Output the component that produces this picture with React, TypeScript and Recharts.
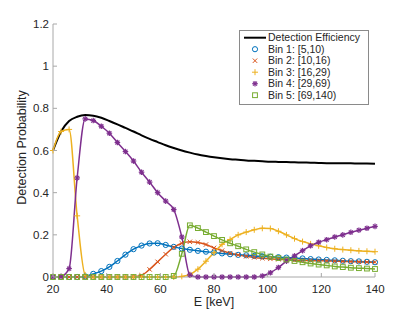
import { LineChart, Line, XAxis, YAxis, Legend } from 'recharts';

// energy grid (keV), one marker every 3 keV
const energy = [20, 23, 26, 29, 32, 35, 38, 41, 44, 47, 50, 53, 56, 59, 62, 65, 68, 71, 74, 77, 80, 83, 86, 89, 92, 95, 98, 101, 104, 107, 110, 113, 116, 119, 122, 125, 128, 131, 134, 137, 140];

const efficiency = [0.6, 0.69, 0.74, 0.76, 0.768, 0.765, 0.755, 0.74, 0.724, 0.707, 0.69, 0.672, 0.655, 0.64, 0.625, 0.612, 0.6, 0.59, 0.581, 0.574, 0.568, 0.563, 0.559, 0.556, 0.553, 0.551, 0.549, 0.547, 0.546, 0.545, 0.544, 0.543, 0.542, 0.541, 0.54, 0.54, 0.539, 0.539, 0.538, 0.538, 0.537];

const bin1 = [0, 0, 0, 0, 0.003, 0.015, 0.028, 0.048, 0.076, 0.106, 0.132, 0.149, 0.159, 0.16, 0.152, 0.143, 0.135, 0.129, 0.124, 0.12, 0.116, 0.112, 0.108, 0.105, 0.103, 0.1, 0.098, 0.096, 0.094, 0.092, 0.09, 0.088, 0.085, 0.083, 0.081, 0.079, 0.077, 0.075, 0.074, 0.072, 0.07];

const bin2 = [0, 0, 0, 0, 0, 0, 0, 0, 0, 0, 0.001, 0.008, 0.036, 0.072, 0.108, 0.14, 0.16, 0.167, 0.164, 0.154, 0.138, 0.125, 0.113, 0.105, 0.098, 0.093, 0.089, 0.086, 0.084, 0.082, 0.08, 0.079, 0.078, 0.077, 0.076, 0.075, 0.074, 0.073, 0.072, 0.071, 0.07];

const bin3 = [0.6, 0.69, 0.7, 0.29, 0.01, 0, 0, 0, 0, 0, 0, 0, 0, 0, 0, 0, 0.003, 0.012, 0.037, 0.075, 0.115, 0.155, 0.178, 0.2, 0.213, 0.224, 0.231, 0.23, 0.217, 0.2, 0.182, 0.168, 0.157, 0.148, 0.14, 0.134, 0.13, 0.127, 0.124, 0.122, 0.12];

const bin4 = [0, 0.003, 0.04, 0.47, 0.75, 0.742, 0.715, 0.682, 0.638, 0.595, 0.55, 0.497, 0.45, 0.4, 0.36, 0.32, 0.19, 0.01, 0, 0, 0, 0, 0, 0, 0, 0, 0.005, 0.02, 0.045, 0.075, 0.1, 0.125, 0.148, 0.165, 0.177, 0.19, 0.2, 0.212, 0.222, 0.231, 0.24];

const bin5 = [0, 0, 0, 0, 0, 0, 0, 0, 0, 0, 0, 0, 0, 0, 0, 0.005, 0.11, 0.245, 0.232, 0.213, 0.194, 0.176, 0.16, 0.146, 0.131, 0.118, 0.107, 0.097, 0.09, 0.083, 0.076, 0.07, 0.064, 0.059, 0.055, 0.05, 0.047, 0.044, 0.042, 0.04, 0.038];

const xTicks = [20, 40, 60, 80, 100, 120, 140];
const yTicks = [0, 0.2, 0.4, 0.6, 0.8, 1, 1.2];

const data = energy.map((e, i) => ({
  e,
  eff: efficiency[i],
  b1: bin1[i],
  b2: bin2[i],
  b3: bin3[i],
  b4: bin4[i],
  b5: bin5[i],
}));

const bins = [
  { key: 'b1', name: 'Bin 1: [5,10)', color: '#0072BD', shape: 'circle' },
  { key: 'b2', name: 'Bin 2: [10,16)', color: '#D95319', shape: 'x' },
  { key: 'b3', name: 'Bin 3: [16,29)', color: '#EDB120', shape: 'plus' },
  { key: 'b4', name: 'Bin 4: [29,69)', color: '#7E2F8E', shape: 'star' },
  { key: 'b5', name: 'Bin 5: [69,140)', color: '#77AC30', shape: 'square' },
];

const FONT = '"Liberation Sans", Arial, Helvetica, sans-serif';
const TEXT = '#262626';
const AXIS = '#a8a8a8';

function Marker({ shape, color, cx, cy }: { shape: string; color: string; cx: number; cy: number }) {
  if (cx == null || cy == null) return null;
  const s = { stroke: color, strokeWidth: 1, fill: 'none' };
  if (shape === 'circle') return <circle cx={cx} cy={cy} r={2.6} {...s} />;
  if (shape === 'square') return <rect x={cx - 2.4} y={cy - 2.4} width={4.8} height={4.8} {...s} />;
  if (shape === 'x') {
    const d = 2.2;
    return (
      <g {...s}>
        <line x1={cx - d} y1={cy - d} x2={cx + d} y2={cy + d} />
        <line x1={cx - d} y1={cy + d} x2={cx + d} y2={cy - d} />
      </g>
    );
  }
  if (shape === 'plus') {
    const d = 3;
    return (
      <g {...s}>
        <line x1={cx - d} y1={cy} x2={cx + d} y2={cy} />
        <line x1={cx} y1={cy - d} x2={cx} y2={cy + d} />
      </g>
    );
  }
  // asterisk
  const d = 2.8;
  const k = 2;
  return (
    <g {...s} strokeWidth={1.2}>
      <line x1={cx - d} y1={cy} x2={cx + d} y2={cy} />
      <line x1={cx} y1={cy - d} x2={cx} y2={cy + d} />
      <line x1={cx - k} y1={cy - k} x2={cx + k} y2={cy + k} />
      <line x1={cx - k} y1={cy + k} x2={cx + k} y2={cy - k} />
    </g>
  );
}

const dotFor = (shape: string, color: string) => (props: any) => (
  <Marker key={`m-${props.index}`} shape={shape} color={color} cx={props.cx} cy={props.cy} />
);

// MATLAB-style ticks: short marks pointing into the plot
const XTick = (props: any) => {
  const { x, y, payload } = props;
  return (
    <g>
      <line x1={x} x2={x} y1={277} y2={273} stroke={AXIS} />
      <text x={x} y={y} dy="0.71em" textAnchor="middle" fill={TEXT} fontSize={11.5} fontFamily={FONT}>
        {payload.value}
      </text>
    </g>
  );
};

const YTick = (props: any) => {
  const { x, y, payload } = props;
  return (
    <g>
      <line x1={53} x2={57} y1={y} y2={y} stroke={AXIS} />
      <text x={x} y={y} dy="0.355em" textAnchor="end" fill={TEXT} fontSize={11.5} fontFamily={FONT}>
        {String(payload.value)}
      </text>
    </g>
  );
};

const LegendBox = () => {
  const rowY = [7.7, 19.2, 30.7, 42.2, 53.7, 65.2];
  return (
    <svg width={131} height={76} style={{ display: 'block' }}>
      <rect x={0.5} y={0.5} width={129} height={74} fill="#fff" stroke="#8a8a8a" />
      <line x1={5} x2={27} y1={rowY[0]} y2={rowY[0]} stroke="#000" strokeWidth={2} />
      <text x={29} y={rowY[0]} dy="0.355em" fontSize={10.5} fontFamily={FONT} fill={TEXT}>
        Detection Efficiency
      </text>
      {bins.map((b, i) => (
        <g key={b.key}>
          <Marker shape={b.shape} color={b.color} cx={16} cy={rowY[i + 1]} />
          <text x={29} y={rowY[i + 1]} dy="0.355em" fontSize={10.5} fontFamily={FONT} fill={TEXT}>
            {b.name}
          </text>
        </g>
      ))}
    </svg>
  );
};

export default function App() {
  return (
    <div style={{ position: 'absolute', left: 0, top: 0, width: 415, height: 312, background: '#fff' }}>
      <LineChart width={415} height={312} data={data} margin={{ top: 24, right: 40, bottom: 0, left: 0 }}>
        <XAxis
          dataKey="e"
          type="number"
          domain={[20, 140]}
          ticks={xTicks}
          height={35}
          stroke={AXIS}
          tickLine={false}
          tickSize={0}
          tickMargin={8}
          tick={<XTick />}
          label={(p: any) => (
            <text
              x={p.viewBox.x + p.viewBox.width / 2}
              y={p.viewBox.y + 29}
              textAnchor="middle"
              fontSize={12.5}
              fontFamily={FONT}
              fill={TEXT}
            >
              E [keV]
            </text>
          )}
        />
        <YAxis
          type="number"
          domain={[0, 1.2]}
          ticks={yTicks}
          width={53}
          stroke={AXIS}
          tickLine={false}
          tickSize={0}
          tickMargin={4}
          tick={<YTick />}
          label={(p: any) => {
            const cx = p.viewBox.x + 22;
            const cy = p.viewBox.y + p.viewBox.height / 2 - 3;
            return (
              <text
                x={cx}
                y={cy}
                transform={`rotate(-90 ${cx} ${cy})`}
                textAnchor="middle"
                dy="0.355em"
                fontSize={12.5}
                fontFamily={FONT}
                fill={TEXT}
              >
                Detection Probability
              </text>
            );
          }}
        />
        <Legend
          layout="vertical"
          align="center"
          verticalAlign="middle"
          wrapperStyle={{ left: 239, top: 30, width: 131, height: 76 }}
          content={<LegendBox />}
        />
        <Line
          type="monotone"
          dataKey="eff"
          name="Detection Efficiency"
          stroke="#000"
          strokeWidth={2}
          dot={false}
          activeDot={false}
          isAnimationActive={false}
        />
        {bins.map((b) => (
          <Line
            key={b.key}
            type="monotone"
            dataKey={b.key}
            name={b.name}
            stroke={b.color}
            strokeWidth={1.5}
            dot={dotFor(b.shape, b.color)}
            activeDot={false}
            isAnimationActive={false}
          />
        ))}
      </LineChart>
    </div>
  );
}
